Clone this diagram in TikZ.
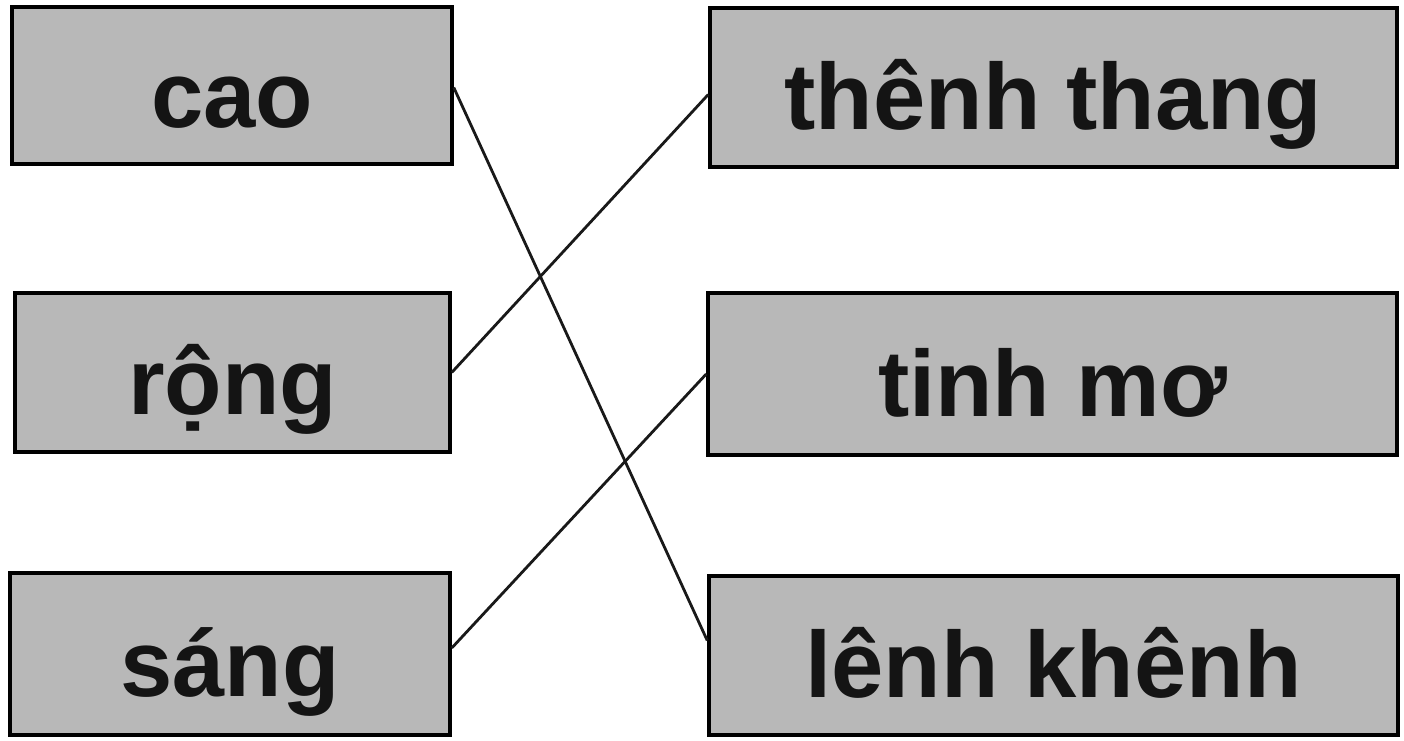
\documentclass[tikz,border=0pt]{standalone}
\usepackage{fontspec}
\setmainfont{Liberation Sans}
\begin{document}
\begin{tikzpicture}[x=1pt,y=-1pt,
  word/.style={draw=black,line width=3.5pt,fill=black!28,inner sep=0pt,
    font=\fontsize{94}{100}\bfseries\selectfont,text=black!92,
    text height=84pt,text depth=0pt},
  link/.style={draw=black!90,line width=2.8pt}]
\useasboundingbox (0,0) rectangle (1404,740);
\node[word,minimum width=440pt,minimum height=157pt] (cao) at (232,85.5) {cao};
\node[word,minimum width=435pt,minimum height=159pt] (rong) at (232.5,372.5) {rộng};
\node[word,minimum width=440pt,minimum height=162pt] (sang) at (230,654) {sáng};
\node[word,minimum width=687pt,minimum height=159pt] (thenh) at (1053.5,87.5) {thênh thang};
\node[word,minimum width=689pt,minimum height=162pt] (tinh) at (1052.5,374) {tinh mơ};
\node[word,minimum width=689pt,minimum height=159pt] (lenh) at (1053.5,655.5) {lênh khênh};
\draw[link] ([yshift=-2pt]cao.east) -- ([yshift=15pt]lenh.west);
\draw[link] (rong.east) -- ([yshift=-7pt]thenh.west);
\draw[link] ([yshift=6pt]sang.east) -- (tinh.west);
\end{tikzpicture}
\end{document}
